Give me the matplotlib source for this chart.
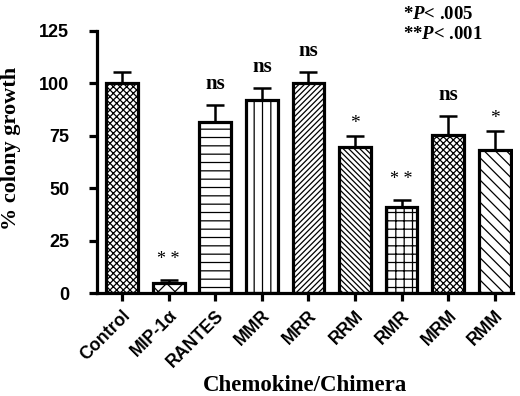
import numpy as np
import matplotlib
matplotlib.use("Agg")
from matplotlib import pyplot as plt

plt.rcParams['hatch.linewidth'] = 0.9
plt.rcParams['mathtext.fontset'] = 'custom'
plt.rcParams['mathtext.bfit'] = 'Liberation Serif:italic:bold'
plt.rcParams['mathtext.it'] = 'Liberation Serif:italic:bold'

labels = ['Control', 'MIP-1α', 'RANTES', 'MMR', 'MRR', 'RRM', 'RMR', 'MRM', 'RMM']
growth = [100.2, 4.6, 81.7, 92.0, 100.0, 69.5, 40.8, 75.4, 68.4]
sem = [5.2, 1.8, 8.2, 5.7, 5.3, 5.5, 3.8, 9.2, 9.0]
marks = ['', '**', 'ns', 'ns', 'ns', '*', '**', 'ns', '*']
hatches = ['xxxxx', 'xx', '--', '||', '//////', '\\\\\\\\\\\\', '++', 'xxxxx', '\\\\\\']

sans = 'Liberation Sans'
serif = 'Liberation Serif'
lw = 2.3

fig = plt.figure(figsize=(5.2, 3.96), dpi=100)
ax = fig.add_axes([0.1865, 0.26, 0.80, 0.662])

x = np.arange(len(labels))
for i in range(len(labels)):
    ax.bar(x[i], growth[i], width=0.68, color='white', edgecolor='black',
           linewidth=lw, hatch=hatches[i], zorder=2)
    ax.errorbar(x[i], growth[i], yerr=[[0], [sem[i]]], color='black',
                elinewidth=1.8, capsize=6.5, capthick=1.8, zorder=1)

# significance marks
for i, m in enumerate(marks):
    top = growth[i] + sem[i]
    if m == 'ns':
        ax.text(x[i], top + 7.5, m, ha='center', va='baseline',
                fontsize=15, fontweight='bold', family=serif)
    elif m == '*':
        ax.text(x[i], top + 3.5, m, ha='center', va='baseline',
                fontsize=14, family=serif)
    elif m == '**':
        ax.text(x[i], top + 7.5, '* *', ha='center', va='baseline',
                fontsize=13, family=serif)

ax.set_xlim(-0.54, 8.39)
ax.set_ylim(0, 125)
ax.set_yticks([0, 25, 50, 75, 100, 125])
ax.set_xticks(x)
ax.set_xticklabels(labels, rotation=45, ha='right', rotation_mode='anchor',
                   fontsize=12.8, fontweight='bold', family=sans)
for t in ax.get_yticklabels():
    t.set_fontsize(13)
    t.set_fontweight('bold')
    t.set_family(sans)

for s in ['top', 'right']:
    ax.spines[s].set_visible(False)
for s in ['left', 'bottom']:
    ax.spines[s].set_linewidth(lw)
ax.tick_params(axis='both', width=lw, length=6, direction='out')
ax.tick_params(axis='y', pad=14)
ax.tick_params(axis='x', pad=4)

ax.set_ylabel('% colony growth', fontsize=16, fontweight='bold', family=serif)
ax.yaxis.set_label_coords(-0.183, 0.55)
ax.set_xlabel('Chemokine/Chimera', fontsize=16.5, fontweight='bold', family=serif, labelpad=3)

fig.text(0.775, 0.952, r'*$\it{P}$< .005', fontsize=13.5, fontweight='bold', family=serif)
fig.text(0.775, 0.902, r'**$\it{P}$< .001', fontsize=13.5, fontweight='bold', family=serif)

fig.savefig('out.png', dpi=100)
